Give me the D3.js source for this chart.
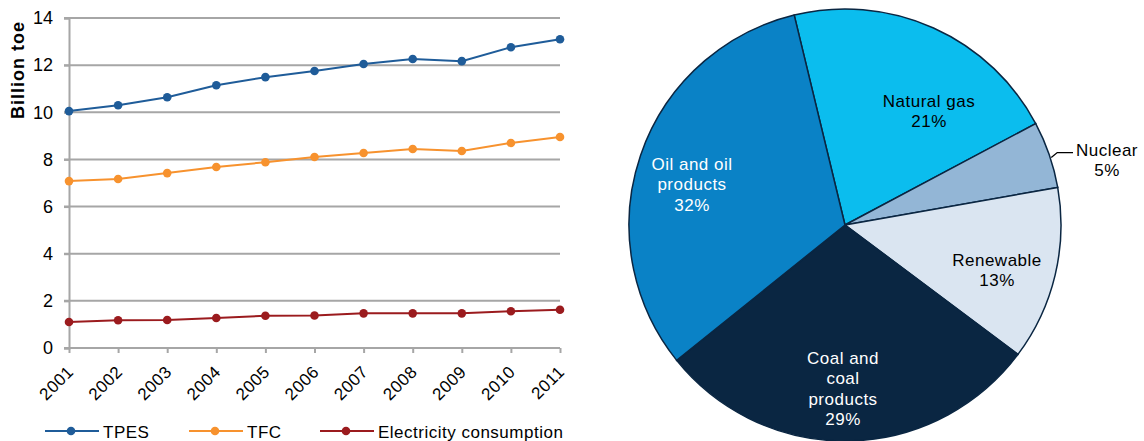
<!DOCTYPE html>
<html>
<head>
<meta charset="utf-8">
<script src="https://cdn.jsdelivr.net/npm/d3@7"></script>
<style>
  body { margin: 0; background: #fff; }
  svg { display: block; font-family: "Liberation Sans", Arial, sans-serif; }
</style>
</head>
<body>
<svg id="chart" width="1144" height="441"></svg>
<script>
const years = ["2001", "2002", "2003", "2004", "2005", "2006", "2007", "2008", "2009", "2010", "2011"];
const tpes = [10.05, 10.3, 10.64, 11.15, 11.49, 11.75, 12.05, 12.26, 12.17, 12.76, 13.1];
const tfc = [7.08, 7.17, 7.42, 7.68, 7.88, 8.1, 8.27, 8.44, 8.36, 8.7, 8.95];
const electricity = [1.1, 1.18, 1.19, 1.27, 1.37, 1.38, 1.47, 1.47, 1.47, 1.56, 1.62];
const yTicks = [0, 2, 4, 6, 8, 10, 12, 14];

const pieLabels = ["Natural gas", "Nuclear", "Renewable", "Coal and coal products", "Oil and oil products"];
const pieShares = [21, 5, 13, 29, 32];
const pieColors = ["#0bbdee", "#93b6d6", "#dae5f1", "#0a2642", "#0a82c6"];

const svg = d3.select("#chart");
const fontSize = "17px";
const spacing = "0.5px";

// ---- line chart ----
const x = d3.scalePoint().domain(years).range([69, 560]);
const y = d3.scaleLinear().domain([0, 14]).range([348, 18]);

const series = [
    { name: "TPES", values: tpes, color: "#1f5c99" },
    { name: "TFC", values: tfc, color: "#f7922e" },
    { name: "Electricity consumption", values: electricity, color: "#9b1b1e" }
];

svg.append("g")
    .selectAll("line")
    .data(yTicks.filter(d => d > 0))
    .enter().append("line")
    .attr("x1", 64).attr("x2", 560)
    .attr("y1", d => y(d)).attr("y2", d => y(d))
    .attr("stroke", "#a6a6a6")
    .attr("stroke-width", 2);

const yAxis = svg.append("g")
    .attr("transform", "translate(69,0)")
    .call(d3.axisLeft(y).tickValues(yTicks).tickSize(5).tickPadding(11));
yAxis.select(".domain").attr("stroke", "#a6a6a6").attr("stroke-width", 2);
yAxis.selectAll(".tick line").attr("stroke", "#a6a6a6").attr("stroke-width", 2);
yAxis.selectAll("text").style("font-size", "18px").attr("fill", "#000");

const xAxis = svg.append("g")
    .attr("transform", "translate(0,348)")
    .call(d3.axisBottom(x).tickSize(5).tickSizeOuter(0));
xAxis.select(".domain").attr("stroke", "#a6a6a6").attr("stroke-width", 2).attr("d", "M64,0H560");
xAxis.selectAll(".tick line").attr("stroke", "#a6a6a6").attr("stroke-width", 2);
xAxis.selectAll("text")
    .style("font-size", fontSize)
    .style("letter-spacing", spacing)
    .attr("fill", "#000")
    .attr("text-anchor", "end")
    .attr("dy", "0")
    .attr("transform", "translate(5,25) rotate(-45)")
    .attr("x", 0).attr("y", 0);

svg.append("text")
    .attr("transform", "translate(24,70) rotate(-90)")
    .attr("text-anchor", "middle")
    .style("font-size", "18px")
    .style("letter-spacing", "1px")
    .style("font-weight", "bold")
    .text("Billion toe");

const line = d3.line()
    .x((d, i) => x(years[i]))
    .y(d => y(d));

series.forEach(s => {
    svg.append("path")
        .attr("d", line(s.values))
        .attr("fill", "none")
        .attr("stroke", s.color)
        .attr("stroke-width", 2);
    svg.append("g")
        .selectAll("circle")
        .data(s.values)
        .enter().append("circle")
        .attr("cx", (d, i) => x(years[i]))
        .attr("cy", d => y(d))
        .attr("r", 4.3)
        .attr("fill", s.color);
});

// legend
const legendX = [45, 189, 320];
series.forEach((s, i) => {
    const g = svg.append("g").attr("transform", `translate(${legendX[i]},431)`);
    g.append("line").attr("x1", 0).attr("x2", 54).attr("stroke", s.color).attr("stroke-width", 2);
    g.append("circle").attr("cx", 26).attr("r", 4.3).attr("fill", s.color);
    g.append("text").attr("x", 58).attr("dy", "0.4em")
        .style("font-size", fontSize).style("letter-spacing", spacing).text(s.name);
});

// ---- pie chart ----
const cx = 845, cy = 225, r = 216;
const startA = -13.6 * Math.PI / 180;
const pie = d3.pie().sort(null).startAngle(startA).endAngle(startA + 2 * Math.PI);
const arcs = pie(pieShares);
const arc = d3.arc().innerRadius(0).outerRadius(r);

const pg = svg.append("g").attr("transform", `translate(${cx},${cy})`);
pg.selectAll("path")
    .data(arcs)
    .enter().append("path")
    .attr("d", arc)
    .attr("fill", (d, i) => pieColors[i])
    .attr("stroke", "#0a2642")
    .attr("stroke-width", 1.5);

// label positions (relative to center), text lines
const labelInfo = [
    { dx: 84, dy: -124, lines: ["Natural gas", "21%"], color: "#000" },
    { dx: 262, dy: -75, lines: ["Nuclear", "5%"], color: "#000" },
    { dx: 152, dy: 35, lines: ["Renewable", "13%"], color: "#000" },
    { dx: -2, dy: 133, lines: ["Coal and", "coal", "products", "29%"], color: "#fff" },
    { dx: -153, dy: -61, lines: ["Oil and oil", "products", "32%"], color: "#fff" }
];

labelInfo.forEach(l => {
    const t = pg.append("text")
        .attr("text-anchor", "middle")
        .attr("fill", l.color)
        .style("font-size", fontSize)
        .style("letter-spacing", spacing);
    l.lines.forEach((s, j) => {
        t.append("tspan").attr("x", l.dx).attr("y", l.dy + j * 20.5).attr("dy", "0.35em").text(s);
    });
});

// nuclear leader line
const nuc = arcs[1];
const la = nuc.startAngle + (nuc.endAngle - nuc.startAngle) * 0.55;
const ex = Math.sin(la) * (r + 1), ey = -Math.cos(la) * (r + 1);
pg.append("path")
    .attr("d", `M${ex},${ey} L${ex + 6},${ey - 5} L228,${ey - 5}`)
    .attr("fill", "none")
    .attr("stroke", "#000")
    .attr("stroke-width", 1.3);
</script>
</body>
</html>
